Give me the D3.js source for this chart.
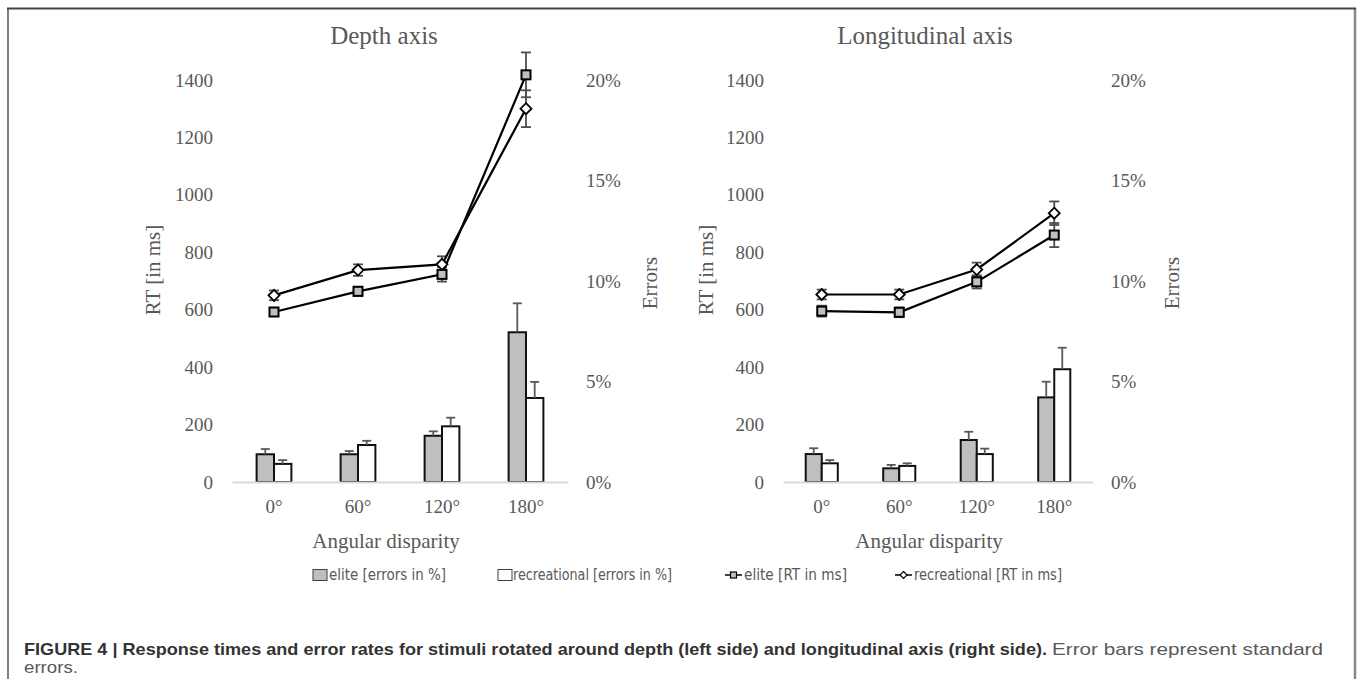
<!DOCTYPE html>
<html>
<head>
<meta charset="utf-8">
<script src="https://cdn.jsdelivr.net/npm/d3@7"></script>
<style>
html,body{margin:0;padding:0;background:#fff;}
svg{display:block;}
</style>
</head>
<body>
<script>
// ---------- DATA ----------
const categories = ["0°", "60°", "120°", "180°"];
const rtTicks = [0, 200, 400, 600, 800, 1000, 1200, 1400];
const errTicks = [0, 5, 10, 15, 20];

// Depth axis (left)
const depthEliteErr   = [1.38, 1.38, 2.30, 7.45];
const depthEliteErrSE = [0.26, 0.16, 0.22, 1.44];
const depthRecErr     = [0.90, 1.84, 2.77, 4.18];
const depthRecErrSE   = [0.19, 0.21, 0.43, 0.80];
const depthEliteRT    = [592, 664, 723, 1418];
const depthEliteRTSE  = [14, 16, 25, 78];
const depthRecRT      = [650, 738, 758, 1300];
const depthRecRTSE    = [17, 20, 28, 64];

// Longitudinal axis (right)
const longEliteErr    = [1.39, 0.68, 2.09, 4.21];
const longEliteErrSE  = [0.29, 0.17, 0.41, 0.78];
const longRecErr      = [0.93, 0.80, 1.39, 5.61];
const longRecErrSE    = [0.16, 0.13, 0.27, 1.07];
const longEliteRT     = [595, 591, 697, 860];
const longEliteRTSE   = [19, 17, 23, 42];
const longRecRT       = [653, 653, 740, 936];
const longRecRTSE     = [17, 17, 24, 41];

const legendLabels = ["elite [errors in %]", "recreational [errors in %]", "elite [RT in ms]", "recreational [RT in ms]"];
const captionBold = "FIGURE 4 | Response times and error rates for stimuli rotated around depth (left side) and longitudinal axis (right side).";
const captionRest = "Error bars represent standard";
const captionLine2 = "errors.";

// ---------- DRAW ----------
const W = 1357, H = 679;
const serif = "'Liberation Serif','Times New Roman',Times,serif";
const txt = "#595959";
const svg = d3.select("body").append("svg").attr("width", W).attr("height", H);
svg.append("rect").attr("width", W).attr("height", H).attr("fill", "#fff");

// frame
svg.append("line").attr("x1", 8).attr("x2", 8).attr("y1", 8).attr("y2", H).attr("stroke", "#555").attr("stroke-width", 1.5);
svg.append("line").attr("x1", 1355).attr("x2", 1355).attr("y1", 8).attr("y2", H).attr("stroke", "#888").attr("stroke-width", 2.5);
svg.append("line").attr("x1", 7).attr("x2", 1356).attr("y1", 8.5).attr("y2", 8.5).attr("stroke", "#444").attr("stroke-width", 2);

function drawPanel(cfg) {
  const yTop = 80, yBot = 482;
  const g = svg.append("g");
  const x = d3.scaleBand().domain(categories).range([cfg.x0, cfg.x1]);
  const yRT = d3.scaleLinear().domain([0, 1400]).range([yBot, yTop]);
  const yErr = d3.scaleLinear().domain([0, 20]).range([yBot, yTop]);
  const bw = x.bandwidth();
  const barW = bw * 0.207;
  const cx = c => x(c) + bw / 2;

  // left axis labels
  const ax = g.append("g").attr("transform", `translate(${cfg.x0},0)`)
    .call(d3.axisLeft(yRT).tickValues(rtTicks).tickFormat(d3.format("d")).tickSize(0).tickPadding(19));
  ax.select(".domain").remove();
  ax.selectAll("text").attr("font-family", serif).attr("font-size", 19).attr("fill", txt);

  // right axis labels
  const ar = g.append("g").attr("transform", `translate(${cfg.x1},0)`)
    .call(d3.axisRight(yErr).tickValues(errTicks).tickFormat(d => d + "%").tickSize(0).tickPadding(18));
  ar.select(".domain").remove();
  ar.selectAll("text").attr("font-family", serif).attr("font-size", 19).attr("fill", txt);

  // bars
  const elite = categories.map((c, i) => ({c, v: cfg.eliteErr[i], se: cfg.eliteErrSE[i], off: -barW}));
  const rec = categories.map((c, i) => ({c, v: cfg.recErr[i], se: cfg.recErrSE[i], off: 0}));
  g.selectAll(".be").data(elite).join("rect")
    .attr("x", d => cx(d.c) + d.off).attr("y", d => yErr(d.v))
    .attr("width", barW).attr("height", d => yBot - yErr(d.v))
    .attr("fill", "#bfbfbf").attr("stroke", "#111").attr("stroke-width", 2);
  g.selectAll(".br").data(rec).join("rect")
    .attr("x", d => cx(d.c) + d.off).attr("y", d => yErr(d.v))
    .attr("width", barW).attr("height", d => yBot - yErr(d.v))
    .attr("fill", "#fff").attr("stroke", "#111").attr("stroke-width", 2);

  // bar error bars (plus only)
  const barErr = elite.concat(rec);
  barErr.forEach(d => {
    const bx = cx(d.c) + d.off + barW / 2;
    const y1 = yErr(d.v), y2 = yErr(d.v + d.se);
    g.append("line").attr("x1", bx).attr("x2", bx).attr("y1", y1).attr("y2", y2).attr("stroke", "#595959").attr("stroke-width", 1.8);
    g.append("line").attr("x1", bx - 4.5).attr("x2", bx + 4.5).attr("y1", y2).attr("y2", y2).attr("stroke", "#595959").attr("stroke-width", 1.8);
  });

  // baseline (x axis)
  const axb = g.append("g").attr("transform", `translate(0,${yBot})`)
    .call(d3.axisBottom(x).tickSize(0).tickSizeOuter(0).tickPadding(18));
  axb.select(".domain").attr("stroke", "#d9d9d9").attr("stroke-width", 2);
  axb.selectAll("text").attr("font-family", serif).attr("font-size", 19).attr("fill", txt);

  // RT error bars
  const eRT = categories.map((c, i) => ({c, v: cfg.eliteRT[i], se: cfg.eliteRTSE[i]}));
  const rRT = categories.map((c, i) => ({c, v: cfg.recRT[i], se: cfg.recRTSE[i]}));
  eRT.concat(rRT).forEach(d => {
    const px = cx(d.c), ya = yRT(d.v - d.se), yb = yRT(d.v + d.se);
    g.append("line").attr("x1", px).attr("x2", px).attr("y1", ya).attr("y2", yb).attr("stroke", "#4d4d4d").attr("stroke-width", 1.8);
    [ya, yb].forEach(yy => g.append("line").attr("x1", px - 5).attr("x2", px + 5).attr("y1", yy).attr("y2", yy).attr("stroke", "#4d4d4d").attr("stroke-width", 1.8));
  });

  // lines
  const line = d3.line().x(d => cx(d.c)).y(d => yRT(d.v));
  g.append("path").datum(eRT).attr("d", line).attr("fill", "none").attr("stroke", "#000").attr("stroke-width", 2.2);
  g.append("path").datum(rRT).attr("d", line).attr("fill", "none").attr("stroke", "#000").attr("stroke-width", 2.2);

  // markers
  g.selectAll(".ms").data(eRT).join("rect")
    .attr("x", d => cx(d.c) - 4.5).attr("y", d => yRT(d.v) - 4.5).attr("width", 9).attr("height", 9)
    .attr("fill", "#bfbfbf").attr("stroke", "#000").attr("stroke-width", 2);
  g.selectAll(".md").data(rRT).join("path")
    .attr("d", d => { const px = cx(d.c), py = yRT(d.v), r = 5.5; return `M${px},${py - r}L${px + r},${py}L${px},${py + r}L${px - r},${py}Z`; })
    .attr("fill", "#fff").attr("stroke", "#000").attr("stroke-width", 1.8);

  // titles
  g.append("text").attr("x", cfg.titleX).attr("y", 44).attr("text-anchor", "middle")
    .attr("font-family", serif).attr("font-size", 25).attr("fill", txt).text(cfg.title);
  g.append("text").attr("x", cfg.xTitleX).attr("y", 548).attr("text-anchor", "middle")
    .attr("font-family", serif).attr("font-size", 21).attr("fill", txt).text("Angular disparity");
  g.append("text").attr("transform", `translate(${cfg.x0 + cfg.rtOff},270) rotate(-90)`).attr("dy", "0.35em")
    .attr("text-anchor", "middle").attr("font-family", serif).attr("font-size", 21).attr("fill", txt).text("RT [in ms]");
  g.append("text").attr("transform", `translate(${cfg.x1 + cfg.errOff},283) rotate(-90)`).attr("dy", "0.35em")
    .attr("text-anchor", "middle").attr("font-family", serif).attr("font-size", 21).attr("fill", txt).text("Errors");
}

drawPanel({x0: 232, x1: 568, title: "Depth axis", titleX: 384, xTitleX: 386, rtOff: -79, errOff: 82,
  eliteErr: depthEliteErr, eliteErrSE: depthEliteErrSE, recErr: depthRecErr, recErrSE: depthRecErrSE,
  eliteRT: depthEliteRT, eliteRTSE: depthEliteRTSE, recRT: depthRecRT, recRTSE: depthRecRTSE});
drawPanel({x0: 783, x1: 1093, title: "Longitudinal axis", titleX: 925, xTitleX: 929, rtOff: -77, errOff: 79,
  eliteErr: longEliteErr, eliteErrSE: longEliteErrSE, recErr: longRecErr, recErrSE: longRecErrSE,
  eliteRT: longEliteRT, eliteRTSE: longEliteRTSE, recRT: longRecRT, recRTSE: longRecRTSE});

// ---------- LEGEND ----------
const lg = svg.append("g");
const legFont = "'Liberation Sans Narrow','DejaVu Sans Condensed','Liberation Sans',sans-serif";
const legY = 575;
const legItems = [
  {type: "bar", fill: "#bfbfbf", x: 313, tx: 329, w: 117},
  {type: "bar", fill: "#fff", x: 498, tx: 513, w: 159},
  {type: "sq", x: 725, tx: 744, w: 103},
  {type: "dm", x: 895, tx: 914, w: 148}
];
legItems.forEach((it, i) => {
  if (it.type === "bar") {
    lg.append("rect").attr("x", it.x).attr("y", legY - 5.5).attr("width", 14).attr("height", 11)
      .attr("fill", it.fill).attr("stroke", "#404040").attr("stroke-width", 1);
  } else {
    lg.append("line").attr("x1", it.x).attr("x2", it.x + 17).attr("y1", legY).attr("y2", legY).attr("stroke", "#000").attr("stroke-width", 1.5);
    const mx = it.x + 8.5;
    if (it.type === "sq") {
      lg.append("rect").attr("x", mx - 3).attr("y", legY - 3).attr("width", 6).attr("height", 6)
        .attr("fill", "#bfbfbf").attr("stroke", "#000").attr("stroke-width", 1.2);
    } else {
      lg.append("path").attr("d", `M${mx},${legY - 3.5}L${mx + 3.5},${legY}L${mx},${legY + 3.5}L${mx - 3.5},${legY}Z`)
        .attr("fill", "#fff").attr("stroke", "#000").attr("stroke-width", 1.2);
    }
  }
  lg.append("text").attr("x", it.tx).attr("y", legY).attr("dy", "0.35em")
    .attr("font-family", legFont).attr("font-size", 15).attr("fill", txt)
    .attr("textLength", it.w).attr("lengthAdjust", "spacingAndGlyphs").text(legendLabels[i]);
});

// ---------- CAPTION ----------
const capFont = "'Liberation Sans',Arial,Helvetica,sans-serif";
svg.append("text").attr("x", 24).attr("y", 655).attr("font-family", capFont).attr("font-size", 17)
  .attr("font-weight", "bold").attr("fill", "#333").attr("textLength", 1023)
  .attr("lengthAdjust", "spacingAndGlyphs").text(captionBold);
svg.append("text").attr("x", 1052).attr("y", 655).attr("font-family", capFont).attr("font-size", 17)
  .attr("fill", "#595959").attr("textLength", 271).attr("lengthAdjust", "spacingAndGlyphs").text(captionRest);
svg.append("text").attr("x", 24).attr("y", 673).attr("font-family", capFont).attr("font-size", 17)
  .attr("fill", "#595959").attr("textLength", 54).attr("lengthAdjust", "spacingAndGlyphs").text(captionLine2);
</script>
</body>
</html>
